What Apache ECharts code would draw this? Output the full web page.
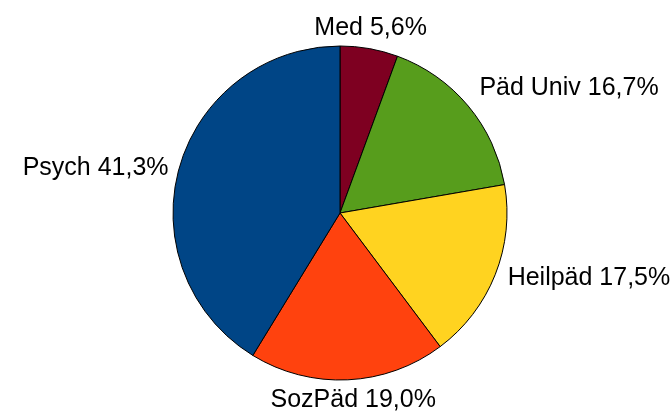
<!DOCTYPE html>
<html>
<head>
<meta charset="utf-8">
<script src="https://cdn.jsdelivr.net/npm/echarts@6/dist/echarts.min.js"></script>
<style>
  html, body { margin: 0; padding: 0; background: #fff; }
  #chart { width: 672px; height: 417px; }
</style>
</head>
<body>
<div id="chart"></div>
<script>
// Daten
const categories = ['Med', 'Päd Univ', 'Heilpäd', 'SozPäd', 'Psych']
const shares = [5.6, 16.7, 17.5, 19.0, 41.3]
const colors = ['#7E0021', '#579D1C', '#FFD320', '#FF420E', '#004586']

// Ausrichtung der Beschriftung je Segment
const labelAlign = [
  { align: 'center', verticalAlign: 'bottom', dx: -5 },
  { verticalAlign: 'bottom' },
  { verticalAlign: 'middle' },
  { align: 'center', verticalAlign: 'top' },
  { verticalAlign: 'middle', dx: 2, dy: 3 }
]

const chart = echarts.init(document.getElementById('chart'))

const option = {
  backgroundColor: '#fff',
  animation: false,
  series: [
    {
      type: 'pie',
      center: [340, 213],
      radius: [0, 167],
      startAngle: 90,
      clockwise: true,
      avoidLabelOverlap: false,
      data: categories.map((name, i) => ({
        name,
        value: shares[i],
        itemStyle: { color: colors[i] }
      })),
      itemStyle: {
        borderColor: '#000',
        borderWidth: 1
      },
      label: {
        show: true,
        position: 'outside',
        color: '#000',
        fontFamily: 'Liberation Sans',
        fontSize: 25,
        formatter: (p) => p.name + ' ' + p.value.toFixed(1).replace('.', ',') + '%'
      },
      labelLine: {
        show: false,
        length: 8,
        length2: 0
      },
      labelLayout: (params) => labelAlign[params.dataIndex],
      emphasis: { disabled: true }
    }
  ]
}

chart.setOption(option)
</script>
</body>
</html>
